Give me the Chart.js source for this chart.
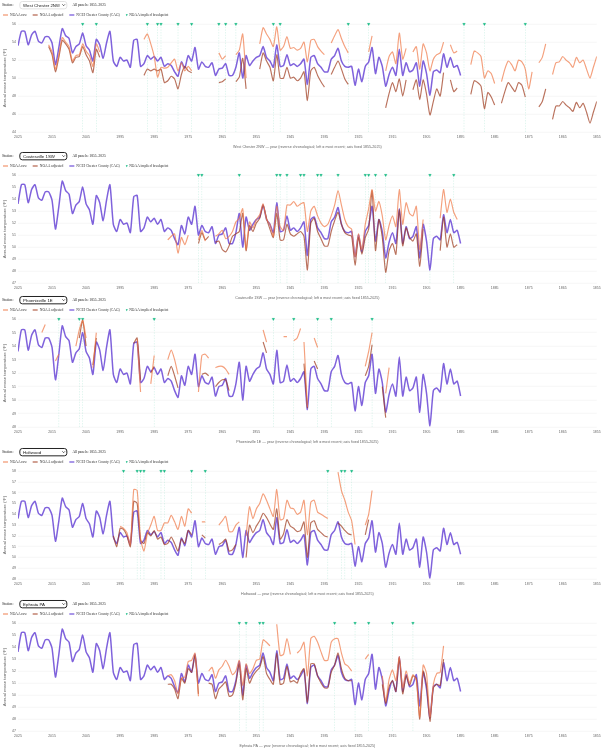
<!DOCTYPE html>
<html>
<head>
<meta charset="utf-8">
<title>Chester County stations: NOAA raw / adjusted vs NCEI CAG</title>
<script src="https://cdn.jsdelivr.net/npm/chart.js@4.4.1/dist/chart.umd.min.js"></script>
<style>
  html, body { margin: 0; padding: 0; background: #fff; overflow: hidden; }
  #page { position: absolute; left: 0; top: 0; width: 1812px; height: 2250px;
          transform: scale(0.333333); transform-origin: 0 0; }
  .panel { position: absolute; left: 0; width: 1812px; height: 450px; }
  .controls { height: 30px; display: flex; align-items: center; padding-left: 6px;
              font: 11px 'Liberation Serif', 'Times New Roman', serif; color: #222; }
  .controls select { margin-left: 18px; width: 144px; height: 25px; padding: 0 4px;
              font: 13px 'Liberation Sans', Arial, sans-serif; color: #111; background: #fff;
              border: 3px solid #222; border-radius: 9px; }
  .controls select.plain { border-color: #e2e2e2; }
  .controls .range { margin-left: 15px; }
  .legend { height: 30px; display: flex; align-items: center; padding-left: 9px;
            font: 11px 'Liberation Serif', 'Times New Roman', serif; color: #333; }
  .legend .item { display: flex; align-items: center; margin-right: 18px; }
  .legend .swatch { display: inline-block; width: 15px; height: 4px; margin-right: 6px; }
  .legend .tri { font: 8px 'DejaVu Sans', sans-serif; margin-right: 4px; }
  canvas { display: block; }
</style>
</head>
<body>
<div id="page"></div>
<script>
// ---- data ----
// NCEI Climate-at-a-Glance, Chester County annual mean (°F), 2025 back to 1895
const nceiStart = 2025;
const nceiCAG = [
  53.6, 55.2, 55.2, 53.7, 54.8, 55.2, 54.1, 53.9, 54.6, 54.6, // 2025-2016
  53.9, 51.5, 53.4, 55.5, 54.7, 54.4, 52.8, 53.5, 53.8, 55.0, // 2015-2006
  53.6, 53.1, 51.9, 54.3, 53.7, 52.2, 53.9, 55.2, 51.9, 51.3, // 2005-1996
  52.3, 51.9, 52.0, 51.2, 54.2, 54.3, 51.3, 51.6, 52.5, 52.1, // 1995-1986
  52.4, 51.9, 52.3, 51.3, 51.6, 51.4, 50.7, 50.2, 51.8, 51.1, // 1985-1976
  52.5, 51.9, 53.4, 51.0, 51.8, 51.3, 51.2, 51.7, 50.3, 51.0, // 1975-1966
  51.1, 51.6, 50.3, 50.3, 51.2, 52.8, 50.0, 52.5, 51.4, 51.9, // 1965-1956
  52.3, 52.5, 53.5, 52.3, 51.9, 51.2, 53.7, 51.3, 51.4, 52.6, // 1955-1946
  51.4, 51.6, 51.3, 51.6, 52.1, 49.3, 52.3, 52.5, 51.6, 51.2, // 1945-1936
  50.7, 50.7, 52.1, 52.5, 53.3, 51.9, 51.3, 51.2, 51.3, 49.2, // 1935-1926
  51.0, 49.6, 51.3, 51.8, 53.4, 50.5, 52.3, 51.3, 49.1, 50.4, // 1925-1916
  51.2, 50.3, 53.2, 50.3, 51.7, 50.7, 50.9, 51.7, 49.1, 51.9, // 1915-1906
  50.5, 48.1, 50.7, 50.9, 50.6, 52.7, 51.2, 52.3, 51.2, 51.4, 50.3 // 1905-1895
];

// NOAA station series as segments: [first year, values going back one year each]
const wcRaw = [
  [2016, 53.7, 52.9, 51.0, 52.6, 54.5, 54.0, 53.5, 51.9, 52.5, 52.6, 53.8, 53.0, 52.5, 51.3, 53.8, 52.9],
  [1988, 54.3, 54.9, 53.8, 52.4, 50.1, 51.2, 51.1, 51.2, 51.7, 52.1, 50.8, 51.7, 50.8, 51.3, 50.8],
  [1966, 52.8, 52.1, 52.5],
  [1961, 52.6, 53.1, 54.9, 50.0],
  [1954, 53.8, 55.6, 54.9, 54.3, 53.5, 55.7, 53.1, 53.5, 54.6, 53.3, 53.4, 53.1, 53.3, 54.0, 51.8, 54.2, 54.3, 53.5, 53.0, 52.6],
  [1933, 53.9, 54.7, 55.4, 54.4, 53.5, 52.8],
  [1922, 52.9, 54.7],
  [1917, 50.8, 52.4, 52.9, 51.6, 55.0, 52.1, 53.3],
  [1909, 52.9, 53.5, 51.0, 53.8, 52.8, 50.8, 52.1, 52.6, 52.8, 54.0],
  [1898, 53.7, 52.8, 53.0],
  [1892, 51.5, 53.0, 52.8, 52.4, 50.0, 50.8, 50.5, 49.4],
  [1883, 49.6, 51.0, 51.9, 51.5, 50.8, 52.0, 51.8, 51.0, 48.8, 50.7],
  [1872, 51.7, 52.3, 53.8],
  [1868, 50.4, 51.7, 51.8, 52.4, 52.0, 51.7, 51.2, 52.3, 51.7, 52.0, 51.0, 50.0, 51.2, 52.4]
];
const wcAdj = [
  [2016, 53.5, 52.6, 50.7, 52.3, 54.2, 53.8, 53.2, 51.7, 52.3, 52.4, 53.5, 52.6, 51.9, 50.6, 53.2, 52.3],
  [1988, 50.3, 51.0, 50.8, 51.0, 50.8, 51.0, 49.5, 49.7, 50.2, 49.9, 48.8, 50.4, 51.3, 50.8, 50.6],
  [1966, 49.5, 49.6, 49.9],
  [1961, 49.6, 50.1, 52.2, 48.8],
  [1954, 51.0, 52.8, 51.9, 51.2, 49.7, 52.6, 50.0, 50.0, 51.2, 50.0, 50.1, 49.7, 50.0, 50.7, 47.5, 50.8, 51.2, 50.3, 49.6, 49.0],
  [1933, 50.4, 51.2, 51.9, 51.0, 49.9, 49.3],
  [1917, 46.7, 48.3, 49.5, 48.5, 49.9, 48.0, 49.8],
  [1909, 48.7, 49.8, 47.6, 49.8, 48.2, 45.9, 47.4, 48.8, 48.0, 50.6],
  [1898, 49.8, 48.5, 48.9],
  [1892, 48.2, 49.7, 49.5, 49.1, 46.6, 48.4, 47.9, 47.0],
  [1883, 47.2, 48.5, 49.5, 49.0, 48.5, 49.5, 49.2, 47.9],
  [1872, 46.8, 47.4, 48.8],
  [1868, 45.4, 46.9, 46.9, 47.4, 47.0, 46.7, 46.3, 47.3, 46.7, 47.2, 46.2, 45.0, 46.2, 47.4]
];
const wcBreaks = [2006, 2002, 1987, 1984, 1983, 1978, 1974, 1966, 1964, 1961, 1950, 1948, 1928, 1922, 1894, 1888, 1876];

const coRaw = [
  [1981, 50.6, 50.9, 51.1, 49.5, 50.8, 50.2, 51.0],
  [1972, 50.6, 51.4, 50.5],
  [1967, 50.9, 51.1, 51.4, 50.7, 50.9, 51.3, 52.1, 52.4, 53.2, 49.8,
         52.1, 51.6, 52.3, 52.7, 53.6, 52.3, 51.9, 50.9, 53.4, 51.7,
         51.4, 53.5, 53.5, 53.8, 53.4, 53.6, 53.7, 51.3, 53.0, 53.4,
         52.6, 52.0, 51.7, 51.9, 52.6, 53.5, 54.7, 53.5, 52.3, 51.7,
         51.5, 49.2, 51.1, 49.8, 51.9, 53.2, 54.8, 53.0, 53.8, 52.6,
         50.6, 51.8, 52.6, 51.7, 54.8, 51.9, 53.7, 52.8, 52.6, 53.4,
         49.8, 52.3],
  [1901, 52.4, 54.8, 52.9, 54.0, 52.9, 52.3]
];
const coAdj = [
  [1972, 50.3, 51.2, 50.6, 50.9],
  [1967, 50.4, 50.5, 49.8, 49.6, 50.1, 50.9, 51.1, 51.3, 52.8, 49.7,
         51.8, 51.3, 52.0, 52.4, 53.5, 52.4, 51.5, 50.8, 52.8, 50.6,
         50.6, 51.9, 51.1, 50.9, 51.1, 51.3, 50.9, 48.1, 52.0, 52.4,
         51.3, 50.7, 50.1, 50.1, 51.3, 52.2, 52.9, 51.9, 51.2, 51.0,
         50.9, 48.5, 50.8, 49.4, 50.8, 51.5, 54.7, 49.7, 52.3, 50.8,
         47.9, 49.7, 50.3, 49.4, 53.1, 50.1, 51.6, 50.8, 50.5, 51.1,
         48.4, 51.5],
  [1901, 49.7, 52.5, 50.0, 51.1, 50.0, 50.2]
];
const coBreaks = [1972, 1971, 1960, 1949, 1948, 1946, 1942, 1941, 1937, 1936, 1931, 1923, 1922, 1920, 1917, 1904, 1897];

const phRaw = [
  [2018, 55.0, 55.6],
  [2014, 52.9, 53.4],
  [2008, 54.0, 55.2, 55.9, 54.6],
  [2003, 52.4, 55.0],
  [1990, 54.5, 50.6],
  [1986, 51.2, 53.3],
  [1981, 53.0, 53.7, 53.0, 51.9],
  [1972, 50.6, 53.3, 53.4, 53.1],
  [1967, 52.4, 52.5, 52.5, 52.3, 51.9],
  [1953, 55.2, 54.3],
  [1947, 54.7, 54.7],
  [1944, 54.4, 54.6, 55.3],
  [1941, 54.3, 49.5],
  [1938, 54.6, 53.9],
  [1923, 52.5, 53.6, 55.0],
  [1917, 50.5, 52.4]
];
const phAdj = [
  [2007, 54.6, 55.9, 54.0],
  [2003, 52.6, 54.6],
  [1991, 54.2, 54.6, 51.5],
  [1986, 52.0, 52.5],
  [1981, 51.8, 52.5, 51.8, 50.9],
  [1971, 51.9, 52.0, 51.8],
  [1967, 51.0, 51.3, 51.5, 51.5, 50.7],
  [1953, 54.3, 53.5],
  [1941, 52.7, 49.4],
  [1938, 52.9, 52.3],
  [1923, 51.8, 52.5, 54.1],
  [1918, 51.0, 48.7]
];
const phBreaks = [2013, 2007, 2006, 1985, 1950, 1944, 1937, 1933, 1921];

const hoRaw = [
  [1995, 52.9, 52.7, 52.3, 51.2, 56.3, 56.2, 51.7, 50.6, 52.2, 53.0, 53.8,
         52.5, 52.5, 53.2, 53.2, 53.9, 53.3, 52.6, 53.8, 52.9, 54.5, 54.1],
  [1971, 53.3, 53.3],
  [1966, 53.0, 53.4, 53.8, 52.4, 52.4, 53.0, 53.3],
  [1958, 52.0, 54.7, 53.6, 54.5, 55.0, 55.9, 55.3, 54.5, 53.8, 56.3, 53.5, 53.6, 55.3,
         54.6, 54.5, 54.0, 54.2, 55.3, 52.1, 55.1, 55.3, 54.2, 54.0, 53.8, 53.6],
  [1931, 57.9, 56.2, 55.3, 54.2, 53.4, 51.2],
  [1923, 53.0, 54.0, 56.2]
];
const hoAdj = [
  [1997, 52.0, 51.0, 52.7, 52.6, 52.0, 51.0, 55.2, 55.0, 51.6, 51.3, 52.3, 52.0,
         52.5, 51.7, 51.9, 51.2, 51.3, 51.9, 51.3, 50.6, 51.7, 51.3, 52.5, 52.1],
  [1971, 52.1, 51.8],
  [1966, 51.2, 51.4, 51.7, 50.6, 50.7, 51.2],
  [1958, 50.0, 53.0, 52.3, 52.9, 53.4, 54.1, 53.7, 53.1, 52.6, 54.5, 51.7, 52.2, 53.5,
         52.9, 52.7, 52.4, 52.5, 53.3, 50.0, 53.2, 53.4, 52.6, 52.3, 52.0, 51.9],
  [1931, 53.2, 52.9, 52.5, 52.2, 52.1],
  [1923, 52.1, 53.5]
];
const hoBreaks = [1994, 1990, 1989, 1988, 1983, 1982, 1974, 1970, 1934, 1930, 1929, 1927];

const epRaw = [
  [1981, 51.6, 51.7, 51.2, 50.1, 51.4, 51.5, 52.8, 52.9, 53.5, 49.9],
  [1969, 52.0, 52.3, 51.4, 52.1, 52.4, 52.9, 52.4, 51.7, 52.0, 52.9,
         50.8, 52.6, 51.8, 52.2, 52.9, 53.0, 54.6, 54.4, 54.1],
  [1949, 55.9, 53.3, 53.4, 54.7, 53.4],
  [1943, 53.5, 53.8, 54.4, 51.6, 54.7, 54.9, 54.4, 53.6, 52.9, 52.9,
         54.4, 54.7, 54.7, 53.5, 52.6, 52.4, 52.0],
  [1923, 53.0, 53.4],
  [1918, 51.6, 49.5, 51.3, 52.1, 51.2, 53.2, 50.6, 52.0, 51.0, 51.7,
         51.2, 48.2, 52.5, 51.8, 48.2, 50.9, 51.8, 51.9, 54.1]
];
const epAdj = [
  [1981, 50.9, 50.9, 50.5, 49.7, 51.4, 51.0, 52.2, 51.9, 53.3, 50.1],
  [1969, 51.0, 50.9, 49.7, 50.5, 50.8, 51.1, 49.9, 50.0, 51.0, 52.6,
         49.6, 52.2, 51.0, 51.6, 52.0, 52.3, 53.2, 51.8, 51.3, 50.9,
         53.5, 50.9, 51.0, 52.4, 51.1, 51.2, 51.0, 51.8, 52.2, 49.4,
         52.6, 52.6, 51.6, 51.0, 50.6, 50.6, 51.9, 52.5, 53.5, 52.2,
         51.4, 51.2, 51.2],
  [1918, 50.9, 49.3, 50.7, 51.2, 50.3, 53.1, 50.1, 51.6, 50.8, 51.6,
         51.4, 48.0, 52.0, 50.8, 47.8, 50.6, 50.9, 50.8, 53.0]
];
const epBreaks = [1960, 1958, 1954, 1953, 1932, 1926, 1922, 1915, 1909];

const stationNames = ['West Chester 2NW', 'Coatesville 1SW', 'Phoenixville 1E', 'Holtwood', 'Ephrata PA'];
const yMin = [44, 47, 48, 48, 47];
const yMax = [56, 56, 56, 58, 56];
const yStep = [2, 1, 1, 1, 1];
const legendLabels = ['NOAA raw', 'NOAA adjusted', 'NCEI Chester County (CAG)', 'NOAA implied breakpoint'];

// ---- look ----
const rawColor = 'rgba(240, 120, 70, 0.7)';
const adjColor = 'rgba(160, 60, 30, 0.72)';
const cagColor = 'rgba(104, 70, 214, 0.85)';
const breakColor = '#10b981';
const panelTop = [0, 453, 885, 1341, 1797];

const rawSets = [wcRaw, coRaw, phRaw, hoRaw, epRaw];
const adjSets = [wcAdj, coAdj, phAdj, hoAdj, epAdj];
const breakSets = [wcBreaks, coBreaks, phBreaks, hoBreaks, epBreaks];

Chart.defaults.font.family = "'Liberation Sans', Arial, sans-serif";
Chart.defaults.color = '#666';

function segPoints(segs) {
  const pts = [];
  segs.forEach(seg => {
    const start = seg[0];
    seg.slice(1).forEach((v, i) => pts.push({ x: start - i, y: v }));
    pts.push({ x: start - seg.length + 1.5, y: null }); // break the line
  });
  return pts;
}

function cagPoints() {
  return nceiCAG.map((v, i) => ({ x: nceiStart - i, y: v }));
}

// dotted verticals under each breakpoint marker
const breakLines = {
  id: 'breakLines',
  beforeDatasetsDraw(chart) {
    const { ctx, chartArea, scales } = chart;
    ctx.save();
    ctx.strokeStyle = 'rgba(16, 185, 129, 0.25)';
    ctx.lineWidth = 1.5;
    ctx.setLineDash([4, 4]);
    chart.data.datasets[3].data.forEach(p => {
      const x = scales.x.getPixelForValue(p.x);
      ctx.beginPath();
      ctx.moveTo(x, chartArea.top);
      ctx.lineTo(x, chartArea.bottom);
      ctx.stroke();
    });
    ctx.restore();
  }
};

function legendHtml() {
  const colors = [rawColor, adjColor, cagColor];
  return legendLabels.map((txt, k) => {
    const mark = k < 3
      ? `<i class="swatch" style="background:${colors[k]}"></i>`
      : `<i class="tri" style="color:${breakColor}">▼</i>`;
    return `<span class="item">${mark}${txt}</span>`;
  }).join('');
}

const page = document.getElementById('page');

stationNames.forEach((name, i) => {
  const panel = document.createElement('div');
  panel.className = 'panel';
  panel.style.top = panelTop[i] + 'px';
  const opts = stationNames.map((n, j) => `<option${j === i ? ' selected' : ''}>${n}</option>`).join('');
  panel.innerHTML =
    `<div class="controls">Station:<select class="${i === 0 ? 'plain' : ''}">${opts}</select>` +
    `<span class="range">All panels: 1855–2025</span></div>` +
    `<div class="legend">${legendHtml()}</div>`;
  const canvas = document.createElement('canvas');
  canvas.width = 1812;
  canvas.height = 390;
  panel.appendChild(canvas);
  page.appendChild(panel);

  // the page is shrunk to a third, so the canvas backing store is drawn at 1/3
  new Chart(canvas, {
    type: 'line',
    data: {
      datasets: [
        { label: legendLabels[0], data: segPoints(rawSets[i]), borderColor: rawColor,
          borderWidth: 3.5, pointRadius: 0, tension: 0.2 },
        { label: legendLabels[1], data: segPoints(adjSets[i]), borderColor: adjColor,
          borderWidth: 3.5, pointRadius: 0, tension: 0.2 },
        { label: legendLabels[2], data: cagPoints(), borderColor: cagColor,
          borderWidth: 4.5, pointRadius: 0, tension: 0.2 },
        { label: legendLabels[3], data: breakSets[i].map(yr => ({ x: yr, y: yMax[i] })),
          showLine: false, pointStyle: 'triangle', pointRotation: 180, pointRadius: 4.5,
          backgroundColor: breakColor, borderColor: breakColor, clip: false }
      ]
    },
    options: {
      responsive: false,
      animation: false,
      devicePixelRatio: 1 / 3,
      layout: { padding: { left: 0, right: 21, top: 9, bottom: 0 } },
      plugins: { legend: { display: false }, tooltip: { enabled: false } },
      scales: {
        x: {
          type: 'linear', reverse: true, min: 1855, max: 2025,
          ticks: { stepSize: 10, callback: v => String(v), font: { size: 10.5 },
                   maxRotation: 0, autoSkip: false, padding: 10 },
          grid: { display: false, drawTicks: false },
          border: { display: false },
          title: { display: true, font: { size: 11 }, padding: { top: 5, bottom: 3 },
                   text: `${name} — year (reverse chronological; left = most recent; axis fixed 1855-2025)` }
        },
        y: {
          min: yMin[i], max: yMax[i],
          ticks: { stepSize: yStep[i], font: { size: 10.5 }, padding: 6 },
          grid: { color: '#ececec', lineWidth: 1.5, drawTicks: false },
          border: { display: false },
          title: { display: true, text: 'Annual mean temperature (°F)', font: { size: 13 },
                   padding: { top: 7, bottom: 0 } },
          afterFit: scale => { scale.width = 54; }
        }
      }
    },
    plugins: [breakLines]
  });
});
</script>
</body>
</html>
